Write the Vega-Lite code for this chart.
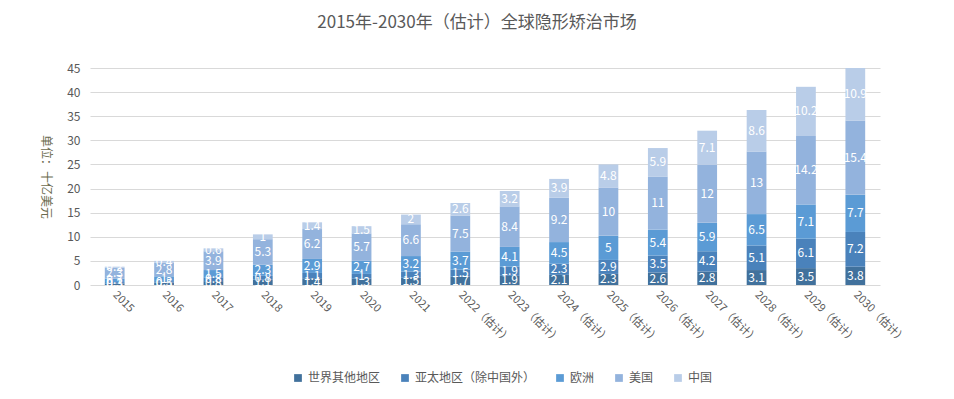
{
  "$schema": "https://vega.github.io/schema/vega-lite/v6.json",
  "width": 790,
  "height": 217,
  "autosize": {"type": "none"},
  "padding": {"left": 90, "top": 68, "right": 74, "bottom": 114},
  "background": "white",
  "config": {
    "font": "Noto Sans CJK SC",
    "view": {"stroke": null},
    "axis": {"labelColor": "#595959", "titleColor": "#595959", "labelFont": "Noto Sans CJK SC", "titleFont": "Noto Sans CJK SC"}
  },
  "title": {
    "text": "2015年-2030年（估计）全球隐形矫治市场",
    "fontSize": 17,
    "font": "Noto Sans CJK SC",
    "fontWeight": "normal",
    "color": "#595959",
    "anchor": "middle",
    "dx": -8,
    "offset": 30
  },
  "data": {
    "values": [
      {"year": "2015", "region": "世界其他地区", "value": 0.3},
      {"year": "2015", "region": "亚太地区（除中国外）", "value": 0.3},
      {"year": "2015", "region": "欧洲", "value": 0.7},
      {"year": "2015", "region": "美国", "value": 2.3},
      {"year": "2015", "region": "中国", "value": 0.2},
      {"year": "2016", "region": "世界其他地区", "value": 0.5},
      {"year": "2016", "region": "亚太地区（除中国外）", "value": 0.3},
      {"year": "2016", "region": "欧洲", "value": 1},
      {"year": "2016", "region": "美国", "value": 2.8},
      {"year": "2016", "region": "中国", "value": 0.4},
      {"year": "2017", "region": "世界其他地区", "value": 0.8},
      {"year": "2017", "region": "亚太地区（除中国外）", "value": 0.8},
      {"year": "2017", "region": "欧洲", "value": 1.5},
      {"year": "2017", "region": "美国", "value": 3.9},
      {"year": "2017", "region": "中国", "value": 0.6},
      {"year": "2018", "region": "世界其他地区", "value": 1.1},
      {"year": "2018", "region": "亚太地区（除中国外）", "value": 0.8},
      {"year": "2018", "region": "欧洲", "value": 2.3},
      {"year": "2018", "region": "美国", "value": 5.3},
      {"year": "2018", "region": "中国", "value": 1},
      {"year": "2019", "region": "世界其他地区", "value": 1.4},
      {"year": "2019", "region": "亚太地区（除中国外）", "value": 1.1},
      {"year": "2019", "region": "欧洲", "value": 2.9},
      {"year": "2019", "region": "美国", "value": 6.2},
      {"year": "2019", "region": "中国", "value": 1.4},
      {"year": "2020", "region": "世界其他地区", "value": 1.3},
      {"year": "2020", "region": "亚太地区（除中国外）", "value": 1},
      {"year": "2020", "region": "欧洲", "value": 2.7},
      {"year": "2020", "region": "美国", "value": 5.7},
      {"year": "2020", "region": "中国", "value": 1.5},
      {"year": "2021", "region": "世界其他地区", "value": 1.5},
      {"year": "2021", "region": "亚太地区（除中国外）", "value": 1.3},
      {"year": "2021", "region": "欧洲", "value": 3.2},
      {"year": "2021", "region": "美国", "value": 6.6},
      {"year": "2021", "region": "中国", "value": 2},
      {"year": "2022（估计）", "region": "世界其他地区", "value": 1.7},
      {"year": "2022（估计）", "region": "亚太地区（除中国外）", "value": 1.5},
      {"year": "2022（估计）", "region": "欧洲", "value": 3.7},
      {"year": "2022（估计）", "region": "美国", "value": 7.5},
      {"year": "2022（估计）", "region": "中国", "value": 2.6},
      {"year": "2023（估计）", "region": "世界其他地区", "value": 1.9},
      {"year": "2023（估计）", "region": "亚太地区（除中国外）", "value": 1.9},
      {"year": "2023（估计）", "region": "欧洲", "value": 4.1},
      {"year": "2023（估计）", "region": "美国", "value": 8.4},
      {"year": "2023（估计）", "region": "中国", "value": 3.2},
      {"year": "2024（估计）", "region": "世界其他地区", "value": 2.1},
      {"year": "2024（估计）", "region": "亚太地区（除中国外）", "value": 2.3},
      {"year": "2024（估计）", "region": "欧洲", "value": 4.5},
      {"year": "2024（估计）", "region": "美国", "value": 9.2},
      {"year": "2024（估计）", "region": "中国", "value": 3.9},
      {"year": "2025（估计）", "region": "世界其他地区", "value": 2.3},
      {"year": "2025（估计）", "region": "亚太地区（除中国外）", "value": 2.9},
      {"year": "2025（估计）", "region": "欧洲", "value": 5},
      {"year": "2025（估计）", "region": "美国", "value": 10},
      {"year": "2025（估计）", "region": "中国", "value": 4.8},
      {"year": "2026（估计）", "region": "世界其他地区", "value": 2.6},
      {"year": "2026（估计）", "region": "亚太地区（除中国外）", "value": 3.5},
      {"year": "2026（估计）", "region": "欧洲", "value": 5.4},
      {"year": "2026（估计）", "region": "美国", "value": 11},
      {"year": "2026（估计）", "region": "中国", "value": 5.9},
      {"year": "2027（估计）", "region": "世界其他地区", "value": 2.8},
      {"year": "2027（估计）", "region": "亚太地区（除中国外）", "value": 4.2},
      {"year": "2027（估计）", "region": "欧洲", "value": 5.9},
      {"year": "2027（估计）", "region": "美国", "value": 12},
      {"year": "2027（估计）", "region": "中国", "value": 7.1},
      {"year": "2028（估计）", "region": "世界其他地区", "value": 3.1},
      {"year": "2028（估计）", "region": "亚太地区（除中国外）", "value": 5.1},
      {"year": "2028（估计）", "region": "欧洲", "value": 6.5},
      {"year": "2028（估计）", "region": "美国", "value": 13},
      {"year": "2028（估计）", "region": "中国", "value": 8.6},
      {"year": "2029（估计）", "region": "世界其他地区", "value": 3.5},
      {"year": "2029（估计）", "region": "亚太地区（除中国外）", "value": 6.1},
      {"year": "2029（估计）", "region": "欧洲", "value": 7.1},
      {"year": "2029（估计）", "region": "美国", "value": 14.2},
      {"year": "2029（估计）", "region": "中国", "value": 10.2},
      {"year": "2030（估计）", "region": "世界其他地区", "value": 3.8},
      {"year": "2030（估计）", "region": "亚太地区（除中国外）", "value": 7.2},
      {"year": "2030（估计）", "region": "欧洲", "value": 7.7},
      {"year": "2030（估计）", "region": "美国", "value": 15.4},
      {"year": "2030（估计）", "region": "中国", "value": 10.9}
    ]
  },
  "transform": [
    {"calculate": "indexof(['世界其他地区','亚太地区（除中国外）','欧洲','美国','中国'], datum.region)", "as": "ord"}
  ],
  "encoding": {
    "x": {
      "field": "year",
      "type": "nominal",
      "sort": null,
      "scale": {"paddingInner": 0.6, "paddingOuter": 0.3},
      "axis": {
        "title": null,
        "labelAngle": 45,
        "labelAlign": "left",
        "labelBaseline": "middle",
        "labelFontSize": 11,
        "labelPadding": 8,
        "ticks": false,
        "domain": false
      }
    },
    "y": {
      "field": "value",
      "type": "quantitative",
      "stack": "zero",
      "scale": {"domain": [0, 45]},
      "axis": {
        "title": "单位：十亿美元",
        "titleAngle": 90,
        "titleFontSize": 12,
        "titleFontWeight": "normal",
        "titleColor": "#6b6b4f",
        "titlePadding": 28,
        "values": [0, 5, 10, 15, 20, 25, 30, 35, 40, 45],
        "labelFontSize": 12,
        "labelPadding": 10,
        "ticks": false,
        "domain": false,
        "gridColor": "#d9d9d9",
        "gridWidth": 1
      }
    },
    "order": {"field": "ord", "type": "quantitative"}
  },
  "layer": [
    {
      "mark": {"type": "bar"},
      "encoding": {
        "color": {
          "field": "region",
          "type": "nominal",
          "sort": ["世界其他地区", "亚太地区（除中国外）", "欧洲", "美国", "中国"],
          "scale": {
            "domain": ["世界其他地区", "亚太地区（除中国外）", "欧洲", "美国", "中国"],
            "range": ["#41719c", "#4a82bb", "#5b9bd5", "#93b3dd", "#b9cde8"]
          },
          "legend": {
            "title": null,
            "orient": "none",
            "legendX": 202,
            "legendY": 304,
            "direction": "horizontal",
            "symbolType": "square",
            "symbolSize": 60,
            "symbolStrokeWidth": 0,
            "labelFontSize": 12,
            "labelColor": "#595959",
            "labelFont": "Noto Sans CJK SC",
            "columnPadding": 18
          }
        }
      }
    },
    {
      "mark": {"type": "text", "color": "white", "fontSize": 12, "font": "Noto Sans CJK SC"},
      "encoding": {
        "y": {"field": "value", "type": "quantitative", "stack": "zero", "bandPosition": 0.5},
        "text": {"field": "value", "type": "quantitative"}
      }
    }
  ]
}
